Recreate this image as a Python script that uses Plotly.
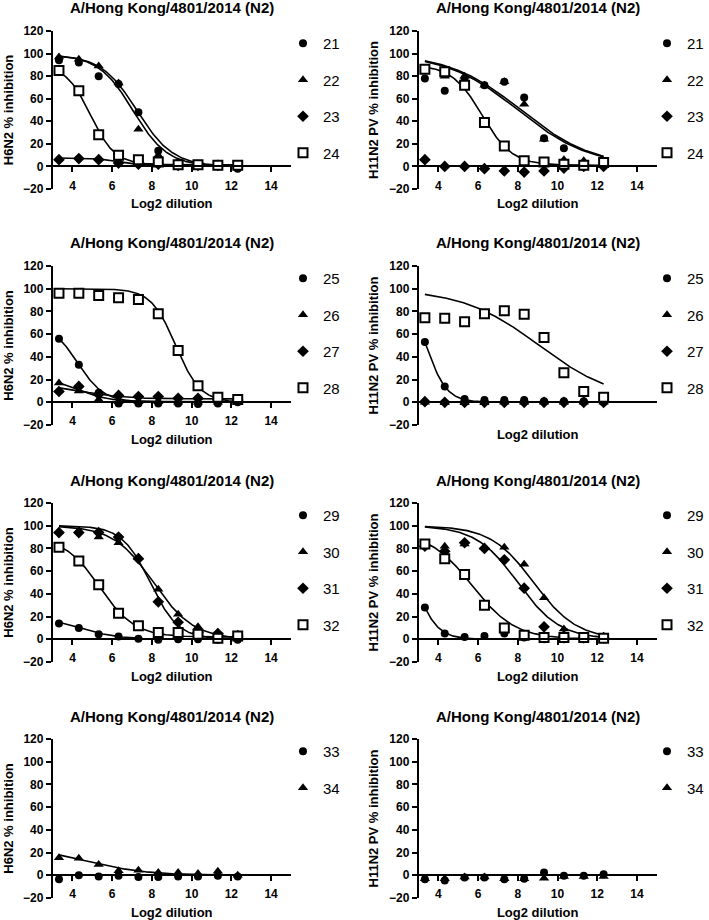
import numpy as np
import plotly.graph_objects as go

# x positions: log2 of the serum dilution (1:10 ... 1:5120)
LOG2_DIL = [3.32, 4.32, 5.32, 6.32, 7.32, 8.32, 9.32, 10.32, 11.32, 12.32]

TITLE = "A/Hong Kong/4801/2014 (N2)"
Y_TITLE_H6 = "H6N2 % inhibition"
Y_TITLE_H11 = "H11N2 PV % inhibition"
X_TITLE = "Log2 dilution"
X_TICKS = [4, 6, 8, 10, 12, 14]
Y_TICKS = [-20, 0, 20, 40, 60, 80, 100, 120]

# % inhibition
H6N2_21 = [94, 92, 80, 73, 48, 14, 3, 1, 1, -2]
H6N2_22 = [97, 95, 89, 74, 33, 10, 3, 1, 1, 0]
H6N2_23 = [6, 7, 6, 3, 2, 2, 1, 1, 1, 0]
H6N2_24 = [85, 67, 28, 10, 6, 4, 1.5, 1.5, 1, 1]

H11N2_21 = [78, 67, 78, 72, 75, 61, 25, 16, 1.5, 1.5]
H11N2_22 = [86, 80, 80, 72, 75, 55, 24, 6, 5, 1]
H11N2_23 = [6, 0, 0, -2, -4, -5, -4, -1.5, 0, 0]
H11N2_24 = [86, 84, 72, 39, 18, 5, 4, 2, 1, 3.5]

H6N2_25 = [56, 33, 8.5, -1, -1, -1, -1, -1.5, -1, 0]
H6N2_26 = [17, 10, 2.5, 0.5, 0.5, 0.5, 0, 0, 0, 0]
H6N2_27 = [9.5, 14, 7, 6, 5, 5, 3.5, 3.5, 2.5, 2]
H6N2_28 = [96, 96, 94, 92, 90.5, 78, 45.5, 14.5, 4.5, 2.5]

H11N2_25 = [53, 14, 3, 2, 2, 2, 1, 1, 1, 0]
H11N2_26 = [0, -0.5, -0.5, -0.5, 0, 0, 0, 0, 0, 0]
H11N2_27 = [0.5, 0, 0, 0, 0, 0, 0, 0, 0, 0]
H11N2_28 = [74.5, 74, 71, 78, 80.5, 77.5, 57, 26, 9.5, 4.5]

H6N2_29 = [14, 10, 4.5, 2.5, 0.5, -0.5, 0, 0, -0.5, -0.5]
H6N2_30 = [95, 95.5, 90, 85, 72, 44, 22, 11, 6, 4.5]
H6N2_31 = [94, 94, 94, 90, 71, 33, 15, 6, 5, 3]
H6N2_32 = [81, 69, 48, 23, 12, 6, 6, 4.5, 1, 3]

H11N2_29 = [28, 5, 2, 3, 5, 1.5, 0, 0, 0, 0]
H11N2_30 = [82, 82, 84, 81, 81, 66, 36.5, 9, 2, 1.5]
H11N2_31 = [82, 77.5, 85, 80, 70, 45, 11, 3, 1.5, 1.5]
H11N2_32 = [84, 71, 57, 30, 10, 3.5, 1.5, 1.5, 1.5, 1]

H6N2_33 = [-3.5, 0, -1, -0.5, -1.5, -1.5, -1, -1, -0.5, -1]
H6N2_34 = [15.5, 15, 9.5, 4, 4.5, 2.5, 2.5, 1.5, 3.5, 0]

H11N2_33 = [-3.5, -4.5, -2, -2, -3.5, -3, 2.5, -0.5, -0.5, 1]
H11N2_34 = [-3, -3, -1.5, -1.5, -3, -3, -2.5, -1, -1, -1]

# fitted dose-response curves: [top, bottom, log2 IC50, slope]
FIT_H6N2_21 = [99, 0, 7.25, 0.48]
FIT_H6N2_22 = [99, 0, 7.05, 0.5]
FIT_H6N2_23 = [7.5, 1, 6.3, 0.8]
FIT_H6N2_24 = [90, 1.5, 4.9, 0.7]
FIT_H11N2_21 = [100, 0, 8.0, 0.24]
FIT_H11N2_22 = [100, 0, 8.15, 0.24]
FIT_H11N2_24 = [90, 1, 6.2, 0.57]
FIT_H6N2_25 = [70, 0, 4.25, 0.65]
FIT_H6N2_26 = [25, 0.5, 3.98, 0.5]
FIT_H6N2_27 = [16, 3, 4.5, 0.4]
FIT_H6N2_28 = [100, 0, 9.2, 0.7]
FIT_H11N2_25 = [100, 0, 3.38, 0.84]
FIT_H11N2_28 = [100, 0, 9.08, 0.222]
FIT_H6N2_29 = [20, 0, 4.4, 0.45]
FIT_H6N2_30 = [100, 0, 8.08, 0.43]
FIT_H6N2_31 = [100, 0, 7.91, 0.61]
FIT_H6N2_32 = [90, 2, 5.37, 0.49]
FIT_H11N2_29 = [100, 0, 2.8, 0.785]
FIT_H11N2_30 = [100, 0, 8.8, 0.4]
FIT_H11N2_31 = [100, 0, 8.0, 0.41]
FIT_H11N2_32 = [95, 0, 5.69, 0.4]
FIT_H6N2_34 = [25, 0, 4.73, 0.29]

SYMBOLS = ["circle", "triangle-up", "diamond", "square"]

PANELS = [
    (Y_TITLE_H6, ["21", "22", "23", "24"], [H6N2_21, H6N2_22, H6N2_23, H6N2_24],
     [FIT_H6N2_21, FIT_H6N2_22, FIT_H6N2_23, FIT_H6N2_24], True),
    (Y_TITLE_H11, ["21", "22", "23", "24"], [H11N2_21, H11N2_22, H11N2_23, H11N2_24],
     [FIT_H11N2_21, FIT_H11N2_22, None, FIT_H11N2_24], True),
    (Y_TITLE_H6, ["25", "26", "27", "28"], [H6N2_25, H6N2_26, H6N2_27, H6N2_28],
     [FIT_H6N2_25, FIT_H6N2_26, FIT_H6N2_27, FIT_H6N2_28], True),
    (Y_TITLE_H11, ["25", "26", "27", "28"], [H11N2_25, H11N2_26, H11N2_27, H11N2_28],
     [FIT_H11N2_25, None, None, FIT_H11N2_28], False),
    (Y_TITLE_H6, ["29", "30", "31", "32"], [H6N2_29, H6N2_30, H6N2_31, H6N2_32],
     [FIT_H6N2_29, FIT_H6N2_30, FIT_H6N2_31, FIT_H6N2_32], True),
    (Y_TITLE_H11, ["29", "30", "31", "32"], [H11N2_29, H11N2_30, H11N2_31, H11N2_32],
     [FIT_H11N2_29, FIT_H11N2_30, FIT_H11N2_31, FIT_H11N2_32], True),
    (Y_TITLE_H6, ["33", "34"], [H6N2_33, H6N2_34], [None, FIT_H6N2_34], True),
    (Y_TITLE_H11, ["33", "34"], [H11N2_33, H11N2_34], [None, None], True),
]

W, H = 709, 920
COL_PX = [(53, 293), (421.5, 661.5)]
ROW_PX = [(31, 189), (266, 425), (503, 662), (739, 898)]
LEGEND_X_PX = [285, 652]
FONT = "Liberation Sans, Arial, sans-serif"


def four_pl(x, p):
    top, bottom, mid, slope = p
    return bottom + (top - bottom) / (1 + 10 ** (slope * (x - mid)))


fig = go.Figure()
layout = {}
annotations = []
curve_x = np.linspace(LOG2_DIL[0], LOG2_DIL[-1], 200)

for i, (ytitle, sera, series, fits, show_ticks) in enumerate(PANELS):
    row, col = divmod(i, 2)
    n = "" if i == 0 else str(i + 1)
    xref, yref, leg = "x" + n, "y" + n, "legend" + n

    x0, x1 = COL_PX[col]
    top_px, bot_px = ROW_PX[row]
    xdom = [x0 / W, x1 / W]
    ydom = [1 - bot_px / H, 1 - top_px / H]
    zero_pos = ydom[0] + (20 / 140) * (ydom[1] - ydom[0])

    for fit in fits:
        if fit is None:
            continue
        fig.add_trace(go.Scatter(
            x=curve_x, y=four_pl(curve_x, fit), mode="lines",
            line=dict(color="black", width=1.6),
            xaxis=xref, yaxis=yref, showlegend=False, hoverinfo="skip"
        ))

    for j, (name, vals) in enumerate(zip(sera, series)):
        sym = SYMBOLS[j]
        if sym == "square":
            marker = dict(symbol="square", size=9, color="white",
                          line=dict(color="black", width=2))
        else:
            marker = dict(symbol=sym, size=9 if sym != "circle" else 8,
                          color="black", line=dict(width=0))
        fig.add_trace(go.Scatter(
            x=LOG2_DIL, y=vals, mode="markers", name=name, marker=marker,
            xaxis=xref, yaxis=yref, legend=leg, legendgroup=f"{i}-{name}"
        ))

    # the H11N2 panel for sera 25-28 has no tick marks / labels on x
    tick_color = "black" if show_ticks else "rgba(0,0,0,0)"
    layout["xaxis" + n] = dict(
        domain=xdom, range=[3, 15], anchor="free", position=zero_pos,
        tickvals=X_TICKS, ticks="outside" if show_ticks else "",
        ticklen=5, tickwidth=1.5, tickcolor="black", ticklabelstandoff=3,
        showline=True, linecolor="black", linewidth=1.6,
        showgrid=False, zeroline=False, automargin=False,
        tickfont=dict(family=FONT, size=12, color=tick_color, weight="bold"),
        title=dict(text=X_TITLE, standoff=6,
                   font=dict(family=FONT, size=13, color="black", weight="bold")),
    )
    layout["yaxis" + n] = dict(
        domain=ydom, range=[-20, 120], anchor=xref,
        tickvals=Y_TICKS, ticks="outside", ticklen=5, tickwidth=1.5,
        tickcolor="black", showline=True, linecolor="black", linewidth=1.6,
        showgrid=False, zeroline=False, automargin=False,
        tickfont=dict(family=FONT, size=12, color="black", weight="bold"),
        title=dict(text=ytitle, standoff=7,
                   font=dict(family=FONT, size=13, color="black", weight="bold")),
    )
    layout[leg] = dict(
        x=LEGEND_X_PX[col] / W, xanchor="left",
        y=1 - (top_px - 4) / H, yanchor="top",
        bgcolor="rgba(0,0,0,0)", tracegroupgap=14,
        font=dict(family=FONT, size=15, color="black"),
    )
    annotations.append(dict(
        text=TITLE, xref="paper", yref="paper", x=(xdom[0] + xdom[1]) / 2,
        y=1 - (top_px - 23) / H, xanchor="center", yanchor="middle",
        showarrow=False,
        font=dict(family=FONT, size=15, color="black", weight="bold"),
    ))

fig.update_layout(
    width=W, height=H, margin=dict(l=0, r=0, t=0, b=0),
    plot_bgcolor="white", paper_bgcolor="white",
    annotations=annotations, **layout
)
# drop the browser's default body margin so the figure sits at the page origin
fig.write_html("out.html", config={"displayModeBar": False},
               post_script="document.body.style.margin='0';")
